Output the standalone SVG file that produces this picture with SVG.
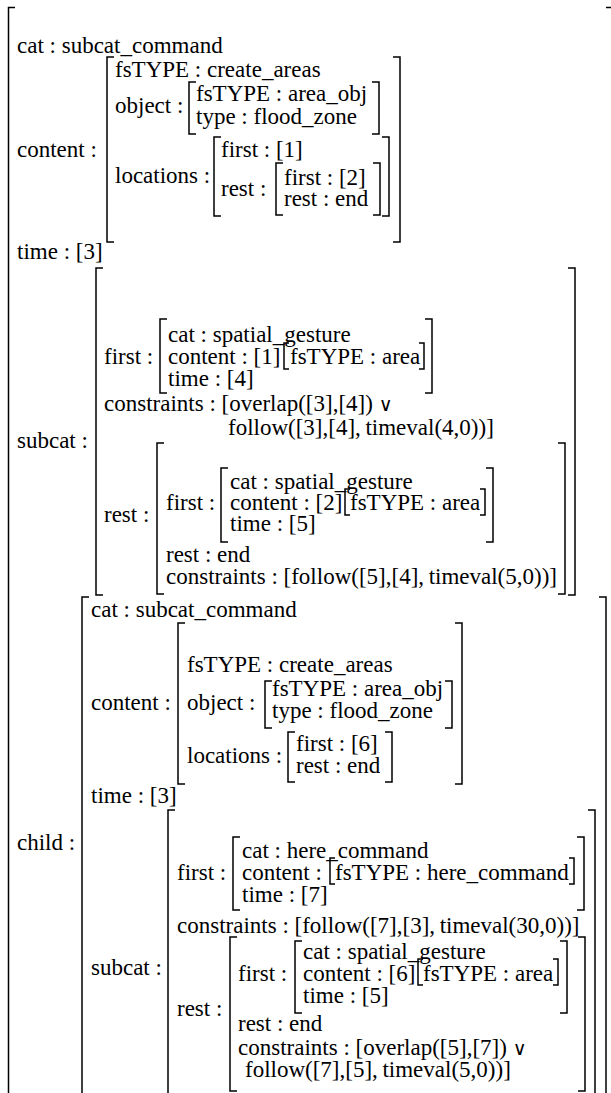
<svg xmlns="http://www.w3.org/2000/svg" width="611" height="1093" viewBox="0 0 611 1093" font-family="'Liberation Serif', 'Times New Roman', 'DejaVu Serif', serif">
<style>
text { font-family: "Liberation Serif", "Times New Roman", "DejaVu Serif", serif; font-size: 23px; fill: #000; }
.or { font-family: "DejaVu Serif", "Liberation Serif", serif; font-size: 19px; }
.b { fill: none; stroke: #000; stroke-width: 1.5; }
</style>
<rect width="611" height="1093" fill="#fff"/>
<g id="outer">
<path class="b" d="M15,7.5 H8.5 V1100"/>
<path class="b" d="M606,7.5 H611"/>
</g>
<g id="top-level">
<text x="17" y="53">cat : subcat_command</text>
<text x="17" y="157">content :</text>
<text x="17" y="259">time : [3]</text>
</g>
<g id="content1">
<path class="b" d="M114,57 H107 V242 H114"/>
<path class="b" d="M393,57 H400 V242 H393"/>
<text x="115" y="77">fsTYPE : create_areas</text>
<text x="115" y="113">object :</text>
<path class="b" d="M196,82 H189 V134 H196"/>
<path class="b" d="M372,82 H379 V134 H372"/>
<text x="196" y="101">fsTYPE : area_obj</text>
<text x="196" y="124">type : flood_zone</text>
<text x="115" y="183">locations :</text>
<path class="b" d="M221,137 H214 V216 H221"/>
<path class="b" d="M382,137 H389 V216 H382"/>
<text x="221" y="157">first : [1]</text>
<text x="221" y="196">rest :</text>
<path class="b" d="M283,163 H276 V215 H283"/>
<path class="b" d="M373,163 H380 V215 H373"/>
<text x="284" y="185">first : [2]</text>
<text x="284" y="206">rest : end</text>
</g>
<g id="subcat1">
<path class="b" d="M103,268 H96 V595 H103"/>
<path class="b" d="M568,268 H575 V595 H568"/>
<text x="17" y="448">subcat :</text>
<text x="104" y="364">first :</text>
<path class="b" d="M167,319 H160 V393 H167"/>
<path class="b" d="M425,319 H432 V393 H425"/>
<text x="168" y="342">cat : spatial_gesture</text>
<text x="168" y="364">content : [1]</text>
<path class="b" d="M289,343 H284 V369 H289"/>
<text x="290" y="364">fsTYPE : area</text>
<path class="b" d="M419,343 H424 V369 H419"/>
<text x="168" y="386">time : [4]</text>
<text x="104" y="411">constraints : [overlap([3],[4]) <tspan class="or">∨</tspan></text>
<text x="228" y="435">follow([3],[4],&#8201;timeval(4,0))]</text>
<text x="104" y="522">rest :</text>
<path class="b" d="M164,443 H157 V594 H164"/>
<path class="b" d="M558,443 H565 V594 H558"/>
<text x="166" y="510">first :</text>
<path class="b" d="M228,468 H221 V542 H228"/>
<path class="b" d="M486,468 H493 V542 H486"/>
<text x="230" y="489">cat : spatial_gesture</text>
<text x="230" y="510">content : [2]</text>
<path class="b" d="M350,489 H345 V515 H350"/>
<text x="350" y="510">fsTYPE : area</text>
<path class="b" d="M480,489 H485 V515 H480"/>
<text x="230" y="531">time : [5]</text>
<text x="166" y="562">rest : end</text>
<text x="166" y="584">constraints : [follow([5],[4],&#8201;timeval(5,0))]</text>
</g>
<g id="child">
<path class="b" d="M89,597 H82 V1100"/>
<path class="b" d="M599,597 H606 V1100"/>
<text x="17" y="850">child :</text>
<text x="91" y="617">cat : subcat_command</text>
<text x="91" y="710">content :</text>
<path class="b" d="M185,623 H178 V784 H185"/>
<path class="b" d="M455,623 H462 V784 H455"/>
<text x="187" y="672">fsTYPE : create_areas</text>
<text x="187" y="710">object :</text>
<path class="b" d="M272,681 H265 V728 H272"/>
<path class="b" d="M445,681 H452 V728 H445"/>
<text x="272" y="696">fsTYPE : area_obj</text>
<text x="272" y="718">type : flood_zone</text>
<text x="187" y="763">locations :</text>
<path class="b" d="M295,732 H288 V782 H295"/>
<path class="b" d="M385,732 H392 V782 H385"/>
<text x="296" y="751">first : [6]</text>
<text x="296" y="773">rest : end</text>
<text x="91" y="803">time : [3]</text>
</g>
<g id="child-subcat">
<path class="b" d="M175,810 H168 V1100"/>
<path class="b" d="M588,810 H595 V1100"/>
<text x="91" y="975">subcat :</text>
<text x="177" y="880">first :</text>
<path class="b" d="M240,837 H233 V910 H240"/>
<path class="b" d="M577,837 H584 V910 H577"/>
<text x="242" y="858">cat : here_command</text>
<text x="242" y="880">content :</text>
<path class="b" d="M335,858 H330 V884 H335"/>
<text x="335" y="880">fsTYPE : here_command</text>
<path class="b" d="M569,858 H574 V884 H569"/>
<text x="242" y="902">time : [7]</text>
<text x="177" y="933">constraints : [follow([7],[3],&#8201;timeval(30,0))]</text>
<text x="177" y="1016">rest :</text>
<path class="b" d="M237,937 H230 V1091 H237"/>
<path class="b" d="M578,937 H585 V1091 H578"/>
<text x="238" y="981">first :</text>
<path class="b" d="M302,941 H295 V1013 H302"/>
<path class="b" d="M560,941 H567 V1013 H560"/>
<text x="303" y="959">cat : spatial_gesture</text>
<text x="303" y="981">content : [6]</text>
<path class="b" d="M423,959 H418 V985 H423"/>
<text x="423" y="981">fsTYPE : area</text>
<path class="b" d="M553,959 H558 V985 H553"/>
<text x="303" y="1003">time : [5]</text>
<text x="238" y="1031">rest : end</text>
<text x="238" y="1055">constraints : [overlap([5],[7]) <tspan class="or">∨</tspan></text>
<text x="245" y="1077">follow([7],[5],&#8201;timeval(5,0))]</text>
</g>
</svg>
